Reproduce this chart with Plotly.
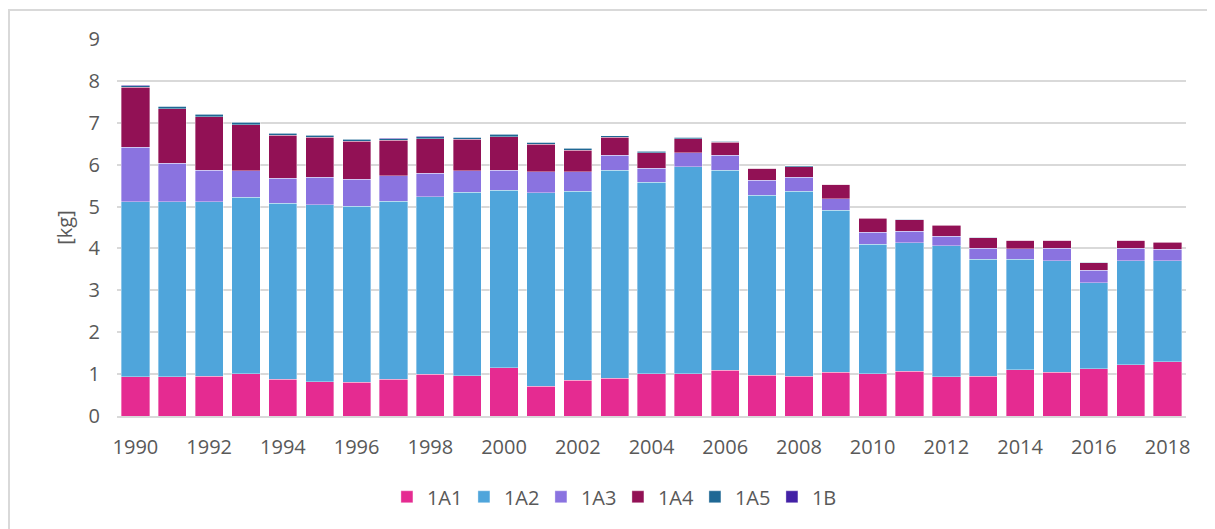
import plotly.graph_objects as go

years = list(range(1990, 2019))

s_1A1 = [0.94, 0.94, 0.95, 1.01, 0.88, 0.82, 0.81, 0.88, 1.00, 0.96,
         1.15, 0.71, 0.85, 0.90, 1.01, 1.01, 1.09, 0.97, 0.95, 1.04,
         1.01, 1.07, 0.94, 0.95, 1.11, 1.05, 1.13, 1.22, 1.29]
s_1A2 = [4.18, 4.18, 4.17, 4.21, 4.20, 4.22, 4.20, 4.25, 4.24, 4.38,
         4.24, 4.62, 4.52, 4.97, 4.57, 4.94, 4.78, 4.30, 4.42, 3.87,
         3.09, 3.07, 3.12, 2.79, 2.63, 2.66, 2.05, 2.49, 2.42]
s_1A3 = [1.30, 0.91, 0.75, 0.64, 0.59, 0.66, 0.64, 0.60, 0.55, 0.51,
         0.48, 0.50, 0.46, 0.35, 0.34, 0.33, 0.35, 0.36, 0.33, 0.28,
         0.29, 0.27, 0.23, 0.26, 0.25, 0.29, 0.30, 0.30, 0.27]
s_1A4 = [1.43, 1.30, 1.27, 1.09, 1.03, 0.95, 0.91, 0.85, 0.83, 0.76,
         0.80, 0.66, 0.52, 0.43, 0.37, 0.34, 0.31, 0.28, 0.25, 0.34,
         0.33, 0.28, 0.26, 0.26, 0.20, 0.19, 0.18, 0.18, 0.17]
s_1A5 = [0.035, 0.06, 0.06, 0.06, 0.05, 0.05, 0.05, 0.04, 0.05, 0.04,
         0.06, 0.04, 0.04, 0.035, 0.035, 0.035, 0.025, 0.01, 0.025, 0.005,
         0.015, 0.01, 0.015, 0.01, 0.01, 0.01, 0.01, 0.01, 0.005]
s_1B = [0.01, 0.01, 0.01, 0.01, 0.01, 0.01, 0.01, 0.01, 0.01, 0.01,
        0.01, 0.01, 0.01, 0.005, 0.005, 0.005, 0.005, 0.005, 0.005, 0.003,
        0.003, 0.003, 0.003, 0.003, 0.003, 0.003, 0.003, 0.003, 0.003]

series = [
    ("1A1", s_1A1, "#E52B91"),
    ("1A2", s_1A2, "#4FA5DB"),
    ("1A3", s_1A3, "#8A73E0"),
    ("1A4", s_1A4, "#921155"),
    ("1A5", s_1A5, "#1F6894"),
    ("1B", s_1B, "#4321A6"),
]

fig = go.Figure()
for name, vals, col in series:
    fig.add_trace(go.Bar(
        x=years, y=vals, name=name,
        marker=dict(color=col, line=dict(color="rgba(255,255,255,0.45)", width=0.8)),
    ))

font_fam = "Open Sans, Liberation Sans, sans-serif"
txt_col = "#595959"

W, H = 1215, 529
ML, MR, MT, MB = 109, 37, 31, 121
PW = W - ML - MR
PH = H - MT - MB

fig.update_layout(
    width=W, height=H,
    barmode="stack",
    bargap=0.235,
    paper_bgcolor="white",
    plot_bgcolor="white",
    margin=dict(l=ML, r=MR, t=MT, b=MB),
    font=dict(family=font_fam, size=20, color=txt_col),
    xaxis=dict(
        range=[1989.5, 2018.5],
        tickmode="linear", tick0=1990, dtick=2,
        showgrid=False, zeroline=False,
        showline=True, linecolor="#d9d9d9", linewidth=1.5,
        ticks="", ticklabelstandoff=12,
        tickfont=dict(size=20, color=txt_col),
    ),
    yaxis=dict(
        range=[0, 9], dtick=1,
        showgrid=True, gridcolor="#d9d9d9", gridwidth=1.5,
        zeroline=False, showline=False,
        ticks="", ticklabelstandoff=16,
        tickfont=dict(size=20, color=txt_col),
        title=dict(text="[kg]", font=dict(size=20, color=txt_col), standoff=10),
    ),
    legend=dict(
        orientation="h",
        xref="container", yref="container",
        x=0.502, xanchor="center",
        y=0.076, yanchor="middle",
        font=dict(size=20, color=txt_col),
        itemwidth=30,
        entrywidth=32, entrywidthmode="pixels",
        traceorder="normal",
    ),
    showlegend=True,
)

# outer light gray frame (page x=9,y=10 -> figure x=1,y=2)
fig.add_shape(
    type="rect", xref="paper", yref="paper",
    x0=(1 - ML) / PW, x1=(1240 - ML) / PW,
    y0=-(H + 40 - (H - MB)) / PH, y1=(H - MB - 2) / PH,
    line=dict(color="#d9d9d9", width=2), fillcolor="rgba(0,0,0,0)",
    layer="below",
)

fig.write_html("out.html")
